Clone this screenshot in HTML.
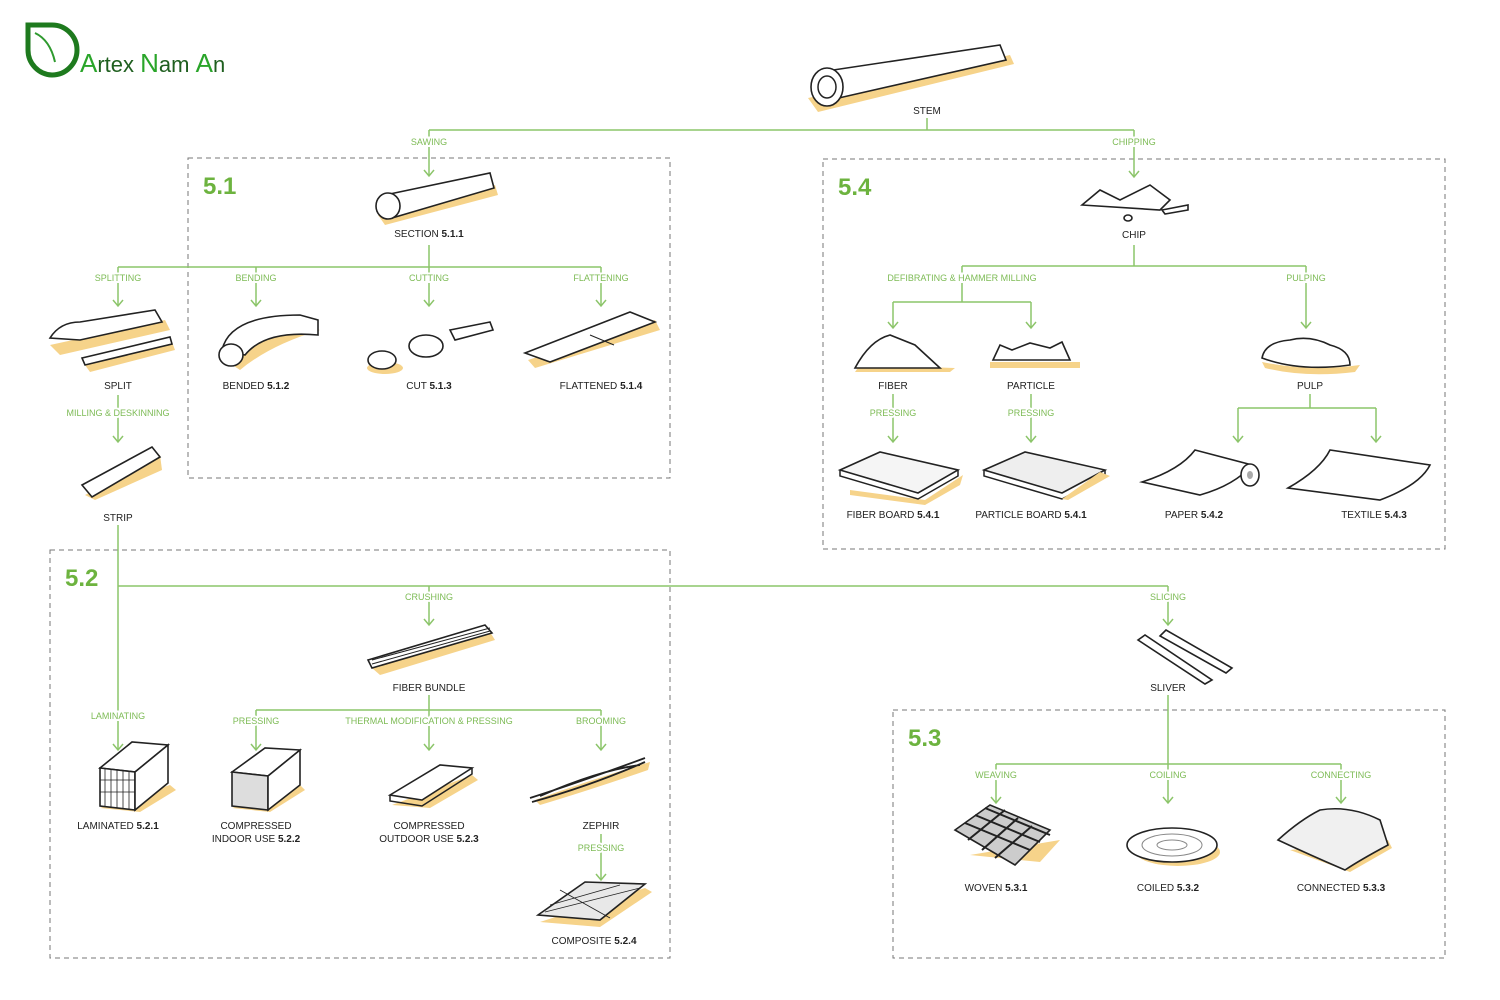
<!DOCTYPE html>
<html><head><meta charset="utf-8"><style>
html,body{margin:0;padding:0;background:#fff}
svg{display:block}
.g{fill:#7dbb55;font:9px "Liberation Sans",sans-serif;text-anchor:middle;stroke:#fff;stroke-width:4px;paint-order:stroke}
.d{fill:#222;font:10px "Liberation Sans",sans-serif;text-anchor:middle}
.n{fill:#6db33f;font:bold 24px "Liberation Sans",sans-serif}
.ln{stroke:#8cc56a;stroke-width:1.5;fill:none}
.bx{stroke:#777;stroke-width:1;stroke-dasharray:5 4;fill:none}
.ic{stroke:#222;stroke-width:1.6;fill:#fff}
.sh{fill:#f6d38a}
</style></head><body>
<svg width="1500" height="1000" viewBox="0 0 1500 1000" xmlns="http://www.w3.org/2000/svg">
<defs>
<marker id="a" markerWidth="10" markerHeight="12" refX="8" refY="6" orient="auto" markerUnits="userSpaceOnUse" viewBox="0 0 10 12">
<path d="M2 1 L8 6 L2 11" fill="none" stroke="#8cc56a" stroke-width="1.5"/></marker>
</defs>
<!-- logo -->
<path d="M28 25 H52 A25 25 0 0 1 52 75 A25 25 0 0 1 28 50 Z" fill="none" stroke="#1e7a1e" stroke-width="5"/>
<path d="M35 33 Q50 40 55 62" fill="none" stroke="#2f9a2f" stroke-width="2"/>
<text x="80" y="72" style="font:26px 'Liberation Sans',sans-serif;fill:#2aa52a"><tspan>A</tspan><tspan fill="#1f5f1f" font-size="22">rtex </tspan><tspan>N</tspan><tspan fill="#1f5f1f" font-size="22">am </tspan><tspan>A</tspan><tspan fill="#1f5f1f" font-size="22">n</tspan></text>

<!-- boxes -->
<rect class="bx" x="188" y="158" width="482" height="320"/>
<rect class="bx" x="823" y="159" width="622" height="390"/>
<rect class="bx" x="50" y="550" width="620" height="408"/>
<rect class="bx" x="893" y="710" width="552" height="248"/>
<text class="n" x="203" y="194">5.1</text>
<text class="n" x="838" y="195">5.4</text>
<text class="n" x="65" y="586">5.2</text>
<text class="n" x="908" y="746">5.3</text>

<!-- connectors -->
<g class="ln">
<path d="M927 118V130M429 130H1134"/>
<path d="M429 130V176" marker-end="url(#a)"/>
<path d="M1134 130V177" marker-end="url(#a)"/>
<path d="M429 245V267M118 267H601"/>
<path d="M118 267V306" marker-end="url(#a)"/>
<path d="M256 267V306" marker-end="url(#a)"/>
<path d="M429 267V306" marker-end="url(#a)"/>
<path d="M601 267V306" marker-end="url(#a)"/>
<path d="M118 395V442" marker-end="url(#a)"/>
<path d="M118 525V750" marker-end="url(#a)"/>
<path d="M118 586H1168"/>
<path d="M429 586V625" marker-end="url(#a)"/>
<path d="M1168 586V625" marker-end="url(#a)"/>
<path d="M429 695V710M256 710H601"/>
<path d="M256 710V750" marker-end="url(#a)"/>
<path d="M429 710V750" marker-end="url(#a)"/>
<path d="M601 710V750" marker-end="url(#a)"/>
<path d="M601 834V880" marker-end="url(#a)"/>
<path d="M1168 695V764M996 764H1341"/>
<path d="M996 764V803" marker-end="url(#a)"/>
<path d="M1168 764V803" marker-end="url(#a)"/>
<path d="M1341 764V803" marker-end="url(#a)"/>
<path d="M1134 245V266M962 266H1306"/>
<path d="M962 266V302M893 302H1031"/>
<path d="M893 302V328" marker-end="url(#a)"/>
<path d="M1031 302V328" marker-end="url(#a)"/>
<path d="M1306 266V328" marker-end="url(#a)"/>
<path d="M893 394V442" marker-end="url(#a)"/>
<path d="M1031 394V442" marker-end="url(#a)"/>
<path d="M1310 394V408M1238 408H1376"/>
<path d="M1238 408V442" marker-end="url(#a)"/>
<path d="M1376 408V442" marker-end="url(#a)"/>
</g>

<!-- green labels -->
<text class="g" x="429" y="145">SAWING</text>
<text class="g" x="1134" y="145">CHIPPING</text>
<text class="g" x="118" y="281">SPLITTING</text>
<text class="g" x="256" y="281">BENDING</text>
<text class="g" x="429" y="281">CUTTING</text>
<text class="g" x="601" y="281">FLATTENING</text>
<text class="g" x="118" y="416">MILLING &amp; DESKINNING</text>
<text class="g" x="429" y="600">CRUSHING</text>
<text class="g" x="1168" y="600">SLICING</text>
<text class="g" x="118" y="719">LAMINATING</text>
<text class="g" x="256" y="724">PRESSING</text>
<text class="g" x="429" y="724">THERMAL MODIFICATION &amp; PRESSING</text>
<text class="g" x="601" y="724">BROOMING</text>
<text class="g" x="601" y="851">PRESSING</text>
<text class="g" x="996" y="778">WEAVING</text>
<text class="g" x="1168" y="778">COILING</text>
<text class="g" x="1341" y="778">CONNECTING</text>
<text class="g" x="962" y="281">DEFIBRATING &amp; HAMMER MILLING</text>
<text class="g" x="1306" y="281">PULPING</text>
<text class="g" x="893" y="416">PRESSING</text>
<text class="g" x="1031" y="416">PRESSING</text>

<!-- dark labels -->
<g class="d">
<text x="927" y="114">STEM</text>
<text x="429" y="237">SECTION <tspan font-weight="bold">5.1.1</tspan></text>
<text x="1134" y="238">CHIP</text>
<text x="118" y="389">SPLIT</text>
<text x="256" y="389">BENDED <tspan font-weight="bold">5.1.2</tspan></text>
<text x="429" y="389">CUT <tspan font-weight="bold">5.1.3</tspan></text>
<text x="601" y="389">FLATTENED <tspan font-weight="bold">5.1.4</tspan></text>
<text x="118" y="521">STRIP</text>
<text x="429" y="691">FIBER BUNDLE</text>
<text x="1168" y="691">SLIVER</text>
<text x="118" y="829">LAMINATED <tspan font-weight="bold">5.2.1</tspan></text>
<text x="256" y="829">COMPRESSED</text>
<text x="256" y="842">INDOOR USE <tspan font-weight="bold">5.2.2</tspan></text>
<text x="429" y="829">COMPRESSED</text>
<text x="429" y="842">OUTDOOR USE <tspan font-weight="bold">5.2.3</tspan></text>
<text x="601" y="829">ZEPHIR</text>
<text x="594" y="944">COMPOSITE <tspan font-weight="bold">5.2.4</tspan></text>
<text x="996" y="891">WOVEN <tspan font-weight="bold">5.3.1</tspan></text>
<text x="1168" y="891">COILED <tspan font-weight="bold">5.3.2</tspan></text>
<text x="1341" y="891">CONNECTED <tspan font-weight="bold">5.3.3</tspan></text>
<text x="893" y="389">FIBER</text>
<text x="1031" y="389">PARTICLE</text>
<text x="1310" y="389">PULP</text>
<text x="893" y="518">FIBER BOARD <tspan font-weight="bold">5.4.1</tspan></text>
<text x="1031" y="518">PARTICLE  BOARD <tspan font-weight="bold">5.4.1</tspan></text>
<text x="1194" y="518">PAPER <tspan font-weight="bold">5.4.2</tspan></text>
<text x="1374" y="518">TEXTILE <tspan font-weight="bold">5.4.3</tspan></text>
</g>

<!-- icons -->
<path class="sh" d="M808 98 L1010 55 L1014 64 L818 112 Z"/>
<path class="ic" d="M820 72 L1000 45 L1006 60 L830 100 Z"/>
<ellipse class="ic" cx="827" cy="87" rx="16" ry="19"/>
<ellipse cx="827" cy="87" rx="9" ry="11" fill="none" stroke="#222" stroke-width="1.5"/>
<path class="sh" d="M378 215 L495 185 L498 195 L385 225 Z"/>
<path class="ic" d="M385 195 L490 173 L494 188 L392 218 Z"/>
<ellipse class="ic" cx="388" cy="206" rx="12" ry="13"/>
<path class="sh" d="M50 345 L165 320 L170 330 L60 355 Z"/>
<path class="ic" d="M50 338 Q60 322 80 322 L155 310 L162 322 L80 340 Z"/>
<path class="sh" d="M85 365 L172 342 L175 350 L90 372 Z"/>
<path class="ic" d="M82 358 L170 337 L172 344 L85 365 Z"/>
<path class="sh" d="M225 360 Q250 330 300 325 L320 330 Q270 345 240 370 Z"/>
<path class="ic" d="M222 350 Q230 315 300 315 L318 320 L318 335 Q265 330 245 355 Z"/>
<ellipse class="ic" cx="231" cy="355" rx="12" ry="11"/>
<ellipse class="sh" cx="385" cy="368" rx="18" ry="6"/>
<ellipse class="ic" cx="382" cy="360" rx="14" ry="9"/>
<ellipse class="ic" cx="426" cy="346" rx="17" ry="11"/>
<path class="ic" d="M450 330 L490 322 L493 330 L455 340 Z"/>
<path class="sh" d="M528 360 L655 320 L660 330 L535 368 Z"/>
<path class="ic" d="M525 353 L630 312 L655 322 L550 362 Z"/>
<path d="M590 335 L614 345" stroke="#222"/>
<path class="sh" d="M85 495 L160 455 L162 470 L95 500 Z"/>
<path class="ic" d="M82 485 L152 447 L160 457 L92 497 Z"/>
<path class="ic" d="M1082 205 L1100 190 L1120 200 L1150 185 L1170 200 L1160 210 Z"/>
<path class="ic" d="M1162 210 L1188 205 L1188 210 L1165 214 Z"/>
<ellipse class="ic" cx="1128" cy="218" rx="4" ry="3"/>
<path class="sh" d="M855 372 L950 372 L955 368 L860 365 Z"/>
<path class="ic" d="M855 368 Q870 340 890 335 L915 345 L940 368 Z"/>
<path class="sh" d="M990 362 H1080 V368 H990 Z"/>
<path class="ic" d="M993 360 L1000 345 L1012 350 L1030 343 L1050 348 L1062 342 L1070 360 Z"/>
<path class="sh" d="M1262 362 Q1310 372 1360 365 L1355 372 Q1305 378 1265 368 Z"/>
<path class="ic" d="M1262 358 Q1265 342 1290 340 Q1310 335 1330 345 Q1350 350 1350 365 Q1300 372 1262 358 Z"/>
<path class="sh" d="M850 490 L925 500 L963 475 L960 485 L925 505 L850 495 Z"/>
<path class="ic" d="M840 470 L880 452 L958 470 L918 493 Z" style="fill:#f5f5f5"/>
<path d="M840 470 L840 476 L918 499 L958 476 L958 470" fill="none" stroke="#222" stroke-width="1.5"/>
<path class="ic" d="M984 470 L1025 452 L1105 470 L1062 493 Z" style="fill:#eee"/>
<path d="M984 470 L984 476 L1062 499 L1105 476 L1105 470" fill="none" stroke="#222" stroke-width="1.5"/>
<path class="sh" d="M1100 472 L1110 476 L1068 500 L1062 499 Z"/>
<path class="ic" d="M1142 482 Q1180 470 1195 450 L1252 465 Q1235 485 1200 495 Z"/>
<ellipse class="ic" cx="1250" cy="475" rx="9" ry="11"/>
<ellipse cx="1250" cy="475" rx="3" ry="4" fill="#aaa"/>
<path class="ic" d="M1288 488 Q1320 470 1330 450 L1430 465 Q1420 485 1380 500 Z"/>
<path class="sh" d="M372 668 L490 632 L495 640 L380 675 Z"/>
<path class="ic" d="M368 660 L485 625 L492 633 L372 668 Z"/>
<path d="M372 660 L490 628 M372 664 L490 631" stroke="#222" stroke-width="1"/>
<path class="ic" d="M1138 640 L1145 635 L1212 680 L1205 684 Z"/>
<path class="ic" d="M1160 636 L1166 630 L1232 668 L1226 673 Z"/>
<path class="sh" d="M100 808 L140 812 L176 790 L170 785 Z"/>
<path class="ic" d="M100 768 L132 742 L168 745 L135 772 Z"/>
<path class="ic" d="M100 768 L135 772 L135 810 L100 806 Z"/>
<path class="ic" d="M135 772 L168 745 L168 783 L135 810 Z"/>
<path d="M105 769V807M111 770V808M117 770V808M123 771V809M129 771V809M100 780H135M100 792H135" stroke="#222" stroke-width="0.8"/>
<path class="sh" d="M232 808 L270 812 L305 790 L300 785 Z"/>
<path class="ic" d="M232 772 L265 748 L300 750 L268 776 Z"/>
<path class="ic" d="M232 772 L268 776 L268 810 L232 806 Z" style="fill:#ddd"/>
<path class="ic" d="M268 776 L300 750 L300 785 L268 810 Z"/>
<path class="sh" d="M392 805 L430 808 L478 780 L472 775 Z"/>
<path class="ic" d="M390 795 L440 765 L472 768 L422 800 Z"/>
<path d="M390 795 L390 801 L422 806 L472 774 L472 768" fill="none" stroke="#222" stroke-width="1.5"/>
<path class="sh" d="M535 800 Q590 780 650 762 L648 770 Q590 790 540 805 Z"/>
<path d="M530 798 Q580 782 645 758 M532 802 Q590 786 645 762 M540 796 Q600 770 640 765" fill="none" stroke="#222" stroke-width="1.8"/>
<path class="sh" d="M540 922 L600 927 L652 892 L645 888 Z"/>
<path class="ic" d="M538 915 L585 882 L645 884 L600 920 Z" style="fill:#e8e8e8"/>
<path d="M545 912 L640 888 M560 890 L610 918 M550 905 L620 885" stroke="#222" stroke-width="0.8"/>
<path class="sh" d="M970 855 L1040 862 L1060 840 Z"/>
<path class="ic" d="M955 830 L990 805 L1050 830 L1015 865 Z" style="fill:#ccc"/>
<path d="M965 823 L1030 850 M975 815 L1040 842 M985 808 L1050 835 M968 840 L1005 810 M982 850 L1018 818 M995 858 L1032 826" stroke="#222" stroke-width="2"/>
<ellipse class="sh" cx="1178" cy="852" rx="42" ry="14"/>
<ellipse class="ic" cx="1172" cy="845" rx="45" ry="17"/>
<ellipse cx="1172" cy="845" rx="30" ry="11" fill="none" stroke="#888"/>
<ellipse cx="1172" cy="845" rx="15" ry="5" fill="none" stroke="#888"/>
<path class="sh" d="M1290 850 L1350 872 L1392 848 L1388 840 Z"/>
<path class="ic" d="M1278 840 Q1300 820 1320 810 Q1350 805 1380 820 L1388 845 Q1360 860 1345 870 Q1310 855 1278 840 Z" style="fill:#f0f0f0"/>
</svg>
</body></html>
